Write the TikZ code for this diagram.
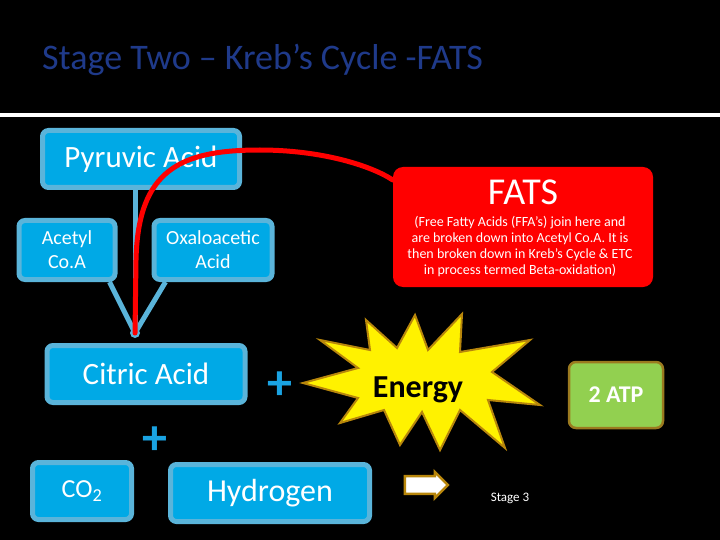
\documentclass[tikz,border=0pt]{standalone}
\usepackage{fontspec}
\setmainfont{Carlito}
\usetikzlibrary{shapes.arrows}
\definecolor{boxin}{HTML}{00A9E6}
\definecolor{boxout}{HTML}{5AB4DA}
\definecolor{plusc}{HTML}{1AA3E2}
\definecolor{titlec}{HTML}{1F3A8A}
\definecolor{goldc}{HTML}{B8860B}
\definecolor{atpg}{HTML}{92D050}
\definecolor{atpb}{HTML}{9B7A1F}
\begin{document}
\begin{tikzpicture}[x=1pt,y=-1pt,
  bluebox/.style={draw=boxout,line width=5pt,fill=boxin,rounded corners=6pt,text=white,inner sep=0pt,align=center},
  link/.style={draw=boxout,line width=5pt},
  plus/.style={text=plusc,font=\bfseries\fontsize{50}{50}\selectfont}]
\fill[black] (0,0) rectangle (720,540);
\useasboundingbox (0,0) rectangle (720,540);
\node[text=titlec,font=\fontsize{36}{36}\selectfont,anchor=west,inner sep=0pt] (title) at (42,60) {Stage Two -- Kreb’s Cycle -FATS};
\draw[white,line width=4pt] (0,115) -- (720,115);
\node[bluebox,minimum width=197pt,minimum height=57pt,font=\fontsize{31}{31}\selectfont] (pyr) at (141,159) {Pyruvic Acid};
\node[bluebox,minimum width=96pt,minimum height=59pt,font=\fontsize{20}{24}\selectfont] (acet) at (67,250) {Acetyl\\Co.A};
\node[bluebox,minimum width=118pt,minimum height=59pt,font=\fontsize{20}{24}\selectfont] (oxa) at (213,250) {Oxaloacetic\\Acid};
\coordinate (j) at (135,333);
\node[bluebox,minimum width=198pt,minimum height=57pt,font=\fontsize{31}{31}\selectfont] (cit) at (146,374) {Citric Acid};
\node[bluebox,minimum width=99pt,minimum height=57pt,font=\fontsize{26}{26}\selectfont] (co2) at (82,491) {CO\textsubscript{2}};
\node[bluebox,minimum width=199pt,minimum height=57pt,font=\fontsize{32}{32}\selectfont] (hyd) at (270,493) {Hydrogen};
\draw[link] (pyr.south -| j) -- (j);
\draw[link] (acet.south east) ++(-8,0) -- (j);
\draw[link] (oxa.south west) ++(14,0) -- (j);
\fill[boxout] (j) circle (5pt);
\node[fill=red,rounded corners=10pt,minimum width=260pt,minimum height=120pt] (fats) at (523,227) {};
\node[text=white,font=\fontsize{38}{38}\selectfont] (fatst) at (523,192) {FATS};
\node[text=white,font=\fontsize{14}{16}\selectfont,align=center] (fatsd) at (520,247) {(Free Fatty Acids (FFA’s) join here and\\are broken down into Acetyl Co.A. It is\\then broken down in Kreb’s Cycle \& ETC\\in process termed Beta-oxidation)};
\draw[red,line width=5pt,line cap=round] (j) -- (136,260) .. controls (138,170) and (180,150) .. (260,150) .. controls (320,150) and (370,165) .. (fats.west |- 0,180);
\node[plus] (p1) at (280,386) {+};
\node[plus] (p2) at (155,441) {+};
\draw[fill=yellow,draw=goldc,line width=2pt] (462,314) -- (460,352) -- (530,340) -- (492,372) -- (540,405) -- (488,400) -- (505,448) -- (460,410) -- (440,450) -- (422,412) -- (400,445) -- (384,410) -- (340,423) -- (358,398) -- (303,383) -- (358,368) -- (320,340) -- (370,350) -- (366,320) -- (397,348) -- (415,315) -- (428,350) -- cycle;
\node[font=\bfseries\fontsize{32}{32}\selectfont] (ent) at (418,390) {Energy};
\node[fill=atpg,draw=atpb,line width=2.5pt,rounded corners=7pt,minimum width=94pt,minimum height=66pt,text=white,font=\bfseries\fontsize{24}{24}\selectfont] (atp) at (616,395) {2 ATP};
\node[single arrow,fill=white,draw=goldc,line width=2.5pt,minimum height=43pt,minimum width=26pt,single arrow head extend=2pt,inner sep=3pt] (arr) at (422,485) {};
\node[text=white,font=\fontsize{13}{13}\selectfont] (st3) at (510,498) {Stage 3};
\end{tikzpicture}
\end{document}
